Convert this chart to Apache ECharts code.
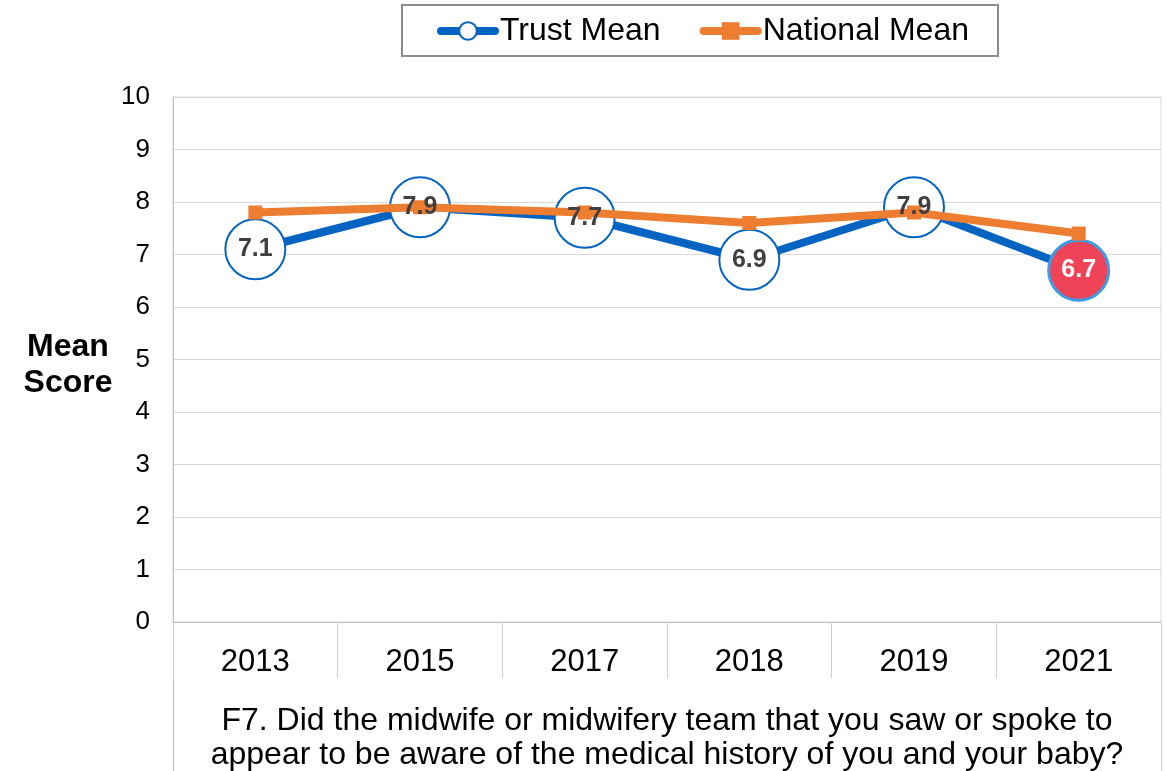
<!DOCTYPE html>
<html>
<head>
<meta charset="utf-8">
<script src="https://cdn.jsdelivr.net/npm/echarts@6/dist/echarts.min.js"></script>
<style>
  html, body { margin: 0; padding: 0; background: #fff; }
  #chart { width: 1166px; height: 771px; }
</style>
</head>
<body>
<div id="chart"></div>
<script>
// Survey years and mean scores
const years = ['2013', '2015', '2017', '2018', '2019', '2021'];
const trustMean = [7.1, 7.9, 7.7, 6.9, 7.9, 6.7];
const nationalMean = [7.8, 7.9, 7.8, 7.6, 7.8, 7.4];
const yTicks = [0, 1, 2, 3, 4, 5, 6, 7, 8, 9, 10];
const question = 'F7. Did the midwife or midwifery team that you saw or spoke to\nappear to be aware of the medical history of you and your baby?';
const yTitle = 'Mean\nScore';
// The most recent year is flagged as significantly lower
const flaggedIndex = 5;

const FONT = '"Liberation Sans", Arial, sans-serif';
const BLUE = '#0563C1';
const ORANGE = '#ED7D31';
const GRID_LEFT = 173, GRID_RIGHT = 5, GRID_TOP = 97, GRID_BOTTOM = 149;
const W = 1166, H = 771;

const trustPoints = trustMean.map((v, i) => i === flaggedIndex
  ? { value: v, itemStyle: { color: '#EF4458', borderColor: '#3D9BE6', borderWidth: 3 } }
  : v);
const trustLabels = trustMean.map((v, i) => i === flaggedIndex
  ? { value: v, label: { color: '#ffffff' } }
  : v);

const chart = echarts.init(document.getElementById('chart'), null, { renderer: 'canvas' });
chart.setOption({
  animation: false,
  backgroundColor: '#ffffff',
  textStyle: { fontFamily: FONT },
  legend: {
    left: 402,
    top: 5,
    padding: [10, 29, 9, 35],
    borderColor: '#8c8c8c',
    borderWidth: 2,
    itemWidth: 54,
    itemHeight: 22,
    itemGap: 39,
    lineStyle: { width: 8, cap: 'round' },
    textStyle: { fontFamily: FONT, fontSize: 32, color: '#000' },
    data: [
      { name: 'Trust Mean', itemStyle: { color: '#ffffff', borderColor: BLUE, borderWidth: 2 } },
      { name: 'National Mean' }
    ]
  },
  grid: {
    left: GRID_LEFT, right: GRID_RIGHT, top: GRID_TOP, bottom: GRID_BOTTOM,
    outerBoundsMode: 'none',
    containLabel: false,
    show: true, borderColor: '#d9d9d9', borderWidth: 1
  },
  xAxis: {
    type: 'category',
    data: years,
    boundaryGap: true,
    axisLine: { lineStyle: { color: '#bfbfbf', width: 1 } },
    axisTick: { show: true, interval: 0, length: 56, lineStyle: { color: '#d0d0d0', width: 1 } },
    axisLabel: { fontFamily: FONT, fontSize: 31, color: '#000', margin: 25 },
    name: question,
    nameLocation: 'middle',
    nameGap: 82,
    nameTextStyle: { fontFamily: FONT, fontSize: 32, color: '#000', lineHeight: 34, align: 'center' }
  },
  yAxis: {
    type: 'value',
    min: yTicks[0],
    max: yTicks[yTicks.length - 1],
    interval: 1,
    axisLine: { show: true, lineStyle: { color: '#bfbfbf', width: 1 } },
    axisTick: { show: false },
    splitLine: { lineStyle: { color: '#d9d9d9', width: 1 } },
    axisLabel: { fontFamily: FONT, fontSize: 26, color: '#000', margin: 23 }
  },
  series: [
    {
      name: 'Trust Mean',
      type: 'line',
      z: 2,
      data: trustPoints,
      symbol: 'circle',
      symbolSize: 60,
      lineStyle: { color: BLUE, width: 8 },
      itemStyle: { color: '#ffffff', borderColor: BLUE, borderWidth: 2 },
      label: { show: false }
    },
    {
      name: 'National Mean',
      type: 'line',
      z: 3,
      data: nationalMean,
      symbol: 'rect',
      symbolSize: 14,
      lineStyle: { color: ORANGE, width: 8 },
      itemStyle: { color: ORANGE, borderColor: ORANGE, borderWidth: 0 }
    },
    {
      // value labels drawn above both lines
      name: 'Trust labels',
      type: 'scatter',
      z: 4,
      silent: true,
      data: trustLabels,
      symbolSize: 60,
      itemStyle: { color: 'rgba(0,0,0,0)', opacity: 1 },
      label: {
        show: true,
        position: 'inside',
        fontFamily: FONT,
        fontSize: 25,
        fontWeight: 'bold',
        color: '#404040',
        formatter: p => p.value.toFixed(1)
      }
    }
  ],
  graphic: [
    // value-axis title
    { type: 'text', silent: true, x: 68, y: 365,
      style: { text: yTitle, fontFamily: FONT, fontSize: 32, fontWeight: 'bold', fill: '#000',
               lineHeight: 36, align: 'center', verticalAlign: 'middle' } },
    // extend the outer frame lines through the category label band
    { type: 'line', silent: true, shape: { x1: GRID_LEFT + 0.5, y1: H - GRID_BOTTOM, x2: GRID_LEFT + 0.5, y2: H },
      style: { stroke: '#bfbfbf', lineWidth: 1 } },
    { type: 'line', silent: true, shape: { x1: W - GRID_RIGHT + 0.5, y1: H - GRID_BOTTOM, x2: W - GRID_RIGHT + 0.5, y2: H },
      style: { stroke: '#d0d0d0', lineWidth: 1 } }
  ]
});
</script>
</body>
</html>
